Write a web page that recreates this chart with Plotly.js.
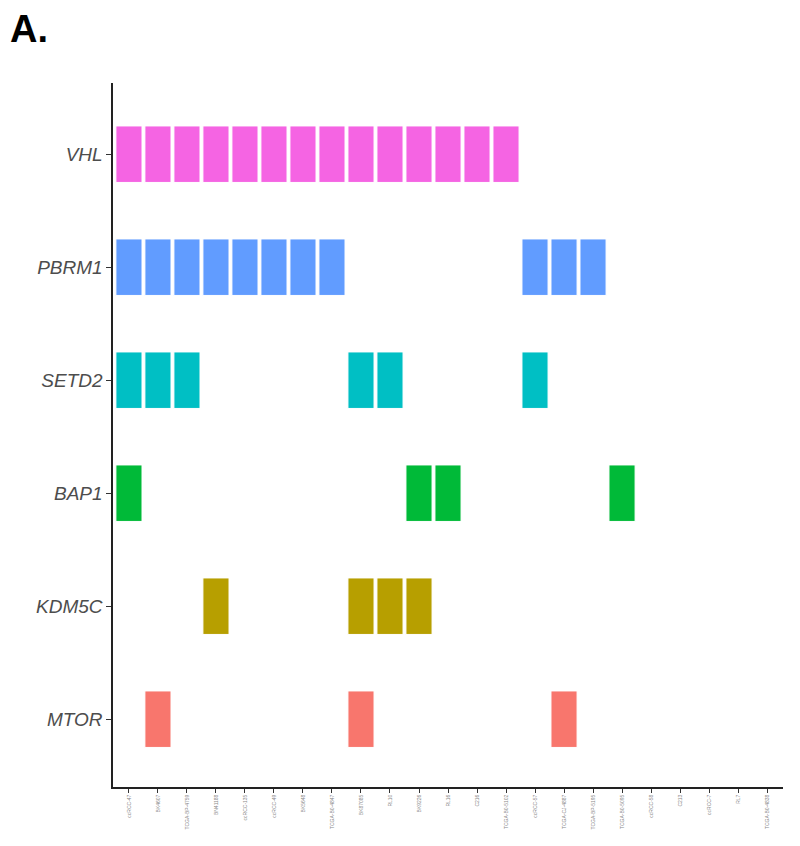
<!DOCTYPE html>
<html>
<head>
<meta charset="utf-8">
<script src="https://cdn.plot.ly/plotly-3.0.1.min.js"></script>
<style>html,body{margin:0;padding:0;background:#fff;}#chart{width:800px;height:846px;}</style>
</head>
<body>
<div id="chart"></div>
<script>
// Samples (x axis order)
const samples = ["ccRCC-47","BK4607","TCGA-BP-4759","BN41188","ccRCC-135","ccRCC-49","BK5648","TCGA-B0-4847",
  "BK87085","RL10","BK9226","RL16","C216","TCGA-B0-5102","ccRCC-57","TCGA-CJ-4887","TCGA-BP-5195",
  "TCGA-B0-5095","ccRCC-58","C213","ccRCC-7","RL7","TCGA-B0-4838"];
// Genes, bottom to top
const genes = ["MTOR","KDM5C","BAP1","SETD2","PBRM1","VHL"];
const geneColors = ["#F8766D","#B79F00","#00BA38","#00BFC4","#619CFF","#F564E3"];
// Mutation matrix (1 = mutated), one row per gene in the order above
const MTOR  = [0,1,0,0,0,0,0,0,1,0,0,0,0,0,0,1,0,0,0,0,0,0,0];
const KDM5C = [0,0,0,1,0,0,0,0,1,1,1,0,0,0,0,0,0,0,0,0,0,0,0];
const BAP1  = [1,0,0,0,0,0,0,0,0,0,1,1,0,0,0,0,0,1,0,0,0,0,0];
const SETD2 = [1,1,1,0,0,0,0,0,1,1,0,0,0,0,1,0,0,0,0,0,0,0,0];
const PBRM1 = [1,1,1,1,1,1,1,1,0,0,0,0,0,0,1,1,1,0,0,0,0,0,0];
const VHL   = [1,1,1,1,1,1,1,1,1,1,1,1,1,1,0,0,0,0,0,0,0,0,0];
const matrix = [MTOR,KDM5C,BAP1,SETD2,PBRM1,VHL];

const traces = genes.map((g,gi)=>{
  const xs=[], bases=[], ys=[];
  matrix[gi].forEach((v,si)=>{ if(v){ xs.push(samples[si]); bases.push(gi-0.25); ys.push(0.5);} });
  return {type:"bar", x:xs, y:ys, base:bases, width:0.9, name:g,
    marker:{color:geneColors[gi], line:{color:"#ffffff", width:1}},
    hoverinfo:"x+name", showlegend:false};
});

const layout = {
  width:800, height:846,
  margin:{l:113, r:17, t:83, b:59},
  paper_bgcolor:"#fff", plot_bgcolor:"#fff",
  barmode:"overlay",
  xaxis:{type:"category", categoryorder:"array", categoryarray:samples, tickvals:samples,
    range:[-0.55,22.55], showgrid:false, zeroline:false,
    showline:true, linecolor:"#222", linewidth:1.6,
    ticks:"outside", ticklen:4, tickcolor:"#333", tickangle:-90,
    tickfont:{family:"Liberation Sans, Arial, sans-serif", size:5, color:"#888"}},
  yaxis:{range:[-0.6,5.63], tickvals:[0,1,2,3,4,5], ticktext:genes,
    showgrid:false, zeroline:false, showline:true, linecolor:"#222", linewidth:1.6,
    ticks:"outside", ticklen:5, tickcolor:"#333",
    tickfont:{family:"Liberation Sans, Arial, sans-serif", size:19, color:"#4d4d4d", style:"italic"}},
  annotations:[{text:"<b>A.</b>", xref:"paper", yref:"paper", x:-0.156, y:1.11,
    xanchor:"left", yanchor:"top", showarrow:false,
    font:{family:"Liberation Sans, Arial, sans-serif", size:38, color:"#000"}}]
};
Plotly.newPlot("chart", traces, layout, {displayModeBar:false, staticPlot:true});
</script>
</body>
</html>
